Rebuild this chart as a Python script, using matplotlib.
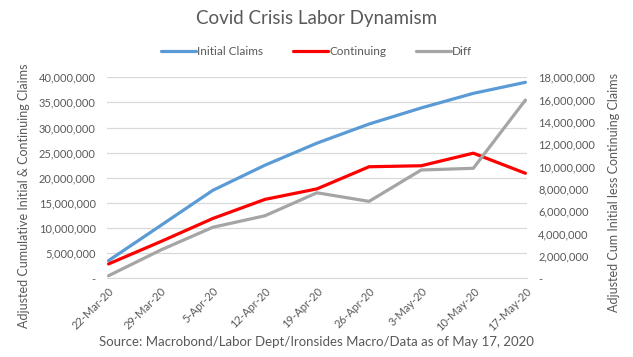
import matplotlib.pyplot as plt
from matplotlib.ticker import FuncFormatter, MultipleLocator

plt.rcParams['font.family'] = ['Lato', 'DejaVu Sans']

dates = ["22-Mar-20", "29-Mar-20", "5-Apr-20", "12-Apr-20", "19-Apr-20",
         "26-Apr-20", "3-May-20", "10-May-20", "17-May-20"]
initial_claims = [3.52e6, 10.5e6, 17.5e6, 22.5e6, 26.9e6, 30.7e6, 33.9e6, 36.8e6, 39.0e6]
continuing = [2.86e6, 7.3e6, 11.9e6, 15.7e6, 17.8e6, 22.2e6, 22.4e6, 24.9e6, 20.9e6]
diff = [0.23e6, 2.53e6, 4.57e6, 5.6e6, 7.66e6, 6.89e6, 9.7e6, 9.85e6, 15.96e6]

txt = '#595959'
grid = '#D9D9D9'


def fmt(v, pos):
    if abs(v) < 1:
        return "-"
    return "{:,.0f}".format(v)


fig = plt.figure(figsize=(6.33, 3.57), dpi=100)
ax1 = fig.add_axes([0.169, 0.2204, 0.6635, 0.5631])
ax2 = ax1.twinx()

x = list(range(len(dates)))
l1, = ax1.plot(x, initial_claims, color='#5B9BD5', lw=2.3, solid_capstyle='round', label='Initial Claims')
l2, = ax1.plot(x, continuing, color='#FF0000', lw=2.3, solid_capstyle='round', label='Continuing')
l3, = ax2.plot(x, diff, color='#A5A5A5', lw=2.3, solid_capstyle='round', label='Diff')

ax1.set_xlim(-0.03, 8.03)
ax1.set_ylim(0, 40e6)
ax2.set_ylim(0, 18e6)
ax1.yaxis.set_major_locator(MultipleLocator(5e6))
ax2.yaxis.set_major_locator(MultipleLocator(2e6))
ax1.yaxis.set_major_formatter(FuncFormatter(fmt))
ax2.yaxis.set_major_formatter(FuncFormatter(fmt))
ax1.grid(axis='y', color=grid, lw=0.9)
ax1.set_axisbelow(True)

for a in (ax1, ax2):
    for s in a.spines.values():
        s.set_visible(False)
    a.tick_params(length=0, labelsize=8, colors=txt)
ax1.spines['bottom'].set_visible(True)
ax1.spines['bottom'].set_color(grid)

ax1.set_xticks(x)
ax1.set_xticklabels(dates, rotation=45, ha='right', rotation_mode='anchor')
ax1.tick_params(axis='x', pad=5)
ax1.tick_params(axis='y', pad=8)
ax2.tick_params(axis='y', pad=8)

ax1.set_ylabel("Adjusted Cumulative Initial & Continuing Claims", fontsize=9, color=txt)
ax2.set_ylabel("Adjusted Cum Initial less Continuing Claims", fontsize=9, color=txt)
ax1.yaxis.set_label_coords(-0.183, 0.41)
ax2.yaxis.set_label_coords(1.193, 0.425)

fig.text(0.5, 0.948, "Covid Crisis Labor Dynamism", ha='center', va='center', fontsize=13.5, color=txt)
fig.legend(handles=[l1, l2, l3], loc='center', bbox_to_anchor=(0.5, 0.855), ncol=3, frameon=False,
           fontsize=8.5, labelcolor=txt, handlelength=3.0, handletextpad=0.1, columnspacing=2.5)
fig.text(0.5, 0.042, "Source: Macrobond/Labor Dept/Ironsides Macro/Data as of May 17, 2020",
         ha='center', va='center', fontsize=9.5, color=txt)

fig.savefig("out.png", dpi=100)
